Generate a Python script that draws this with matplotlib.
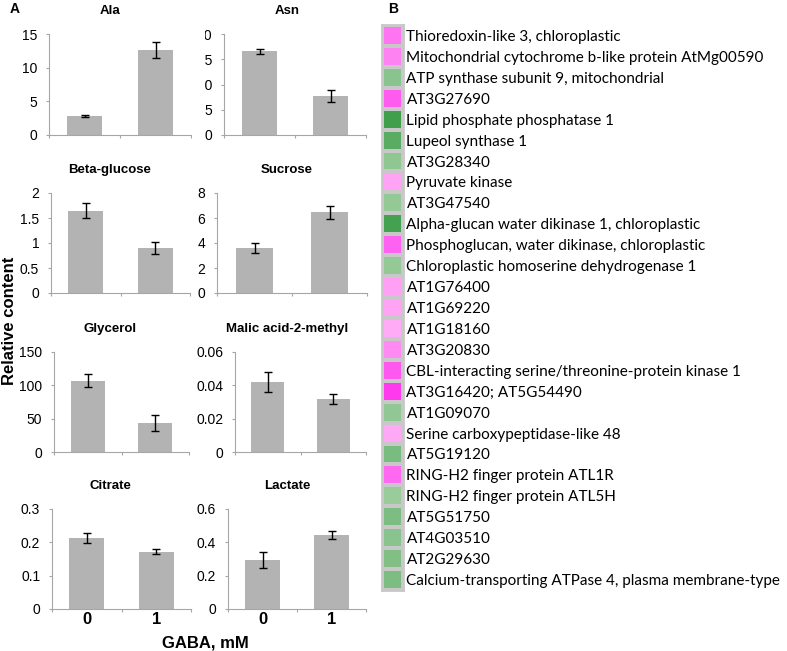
import numpy as np
import matplotlib.pyplot as plt
from matplotlib.colors import LinearSegmentedColormap
from matplotlib.patches import Rectangle

plt.rcParams['font.family'] = ['Liberation Sans', 'DejaVu Sans']

# ---- panel A data ----
metabolites = ['Ala', 'Asn', 'Beta-glucose', 'Sucrose', 'Glycerol',
               'Malic acid-2-methyl', 'Citrate', 'Lactate']
gaba_levels = ['0', '1']
means_0mM = [2.8, 16.6, 1.65, 3.6, 107, 0.042, 0.212, 0.292]
means_1mM = [12.6, 7.7, 0.90, 6.45, 43.5, 0.032, 0.172, 0.444]
err_0mM = [0.2, 0.5, 0.15, 0.4, 9.5, 0.006, 0.015, 0.048]
err_1mM = [1.2, 1.15, 0.12, 0.5, 12.5, 0.003, 0.007, 0.025]
y_max = [15, 20, 2, 8, 150, 0.06, 0.3, 0.6]
y_step = [5, 5, 0.5, 2, 50, 0.02, 0.1, 0.2]

# ---- panel B data: relative change (green = down, pink = up) ----
genes = [
    'Thioredoxin-like 3, chloroplastic',
    'Mitochondrial cytochrome b-like protein AtMg00590',
    'ATP synthase subunit 9, mitochondrial',
    'AT3G27690',
    'Lipid phosphate phosphatase 1',
    'Lupeol synthase 1',
    'AT3G28340',
    'Pyruvate kinase',
    'AT3G47540',
    'Alpha-glucan water dikinase 1, chloroplastic',
    'Phosphoglucan, water dikinase, chloroplastic',
    'Chloroplastic homoserine dehydrogenase 1',
    'AT1G76400',
    'AT1G69220',
    'AT1G18160',
    'AT3G20830',
    'CBL-interacting serine/threonine-protein kinase 1',
    'AT3G16420; AT5G54490',
    'AT1G09070',
    'Serine carboxypeptidase-like 48',
    'AT5G19120',
    'RING-H2 finger protein ATL1R',
    'RING-H2 finger protein ATL5H',
    'AT5G51750',
    'AT4G03510',
    'AT2G29630',
    'Calcium-transporting ATPase 4, plasma membrane-type',
]
change = [0.5, 0.4, -0.3, 0.7, -1.0, -0.75, -0.25, 0.15, -0.2, -0.95,
          0.65, -0.2, 0.18, 0.15, 0.1, 0.35, 0.72, 0.95, -0.22, 0.12,
          -0.45, 0.6, -0.15, -0.42, -0.3, -0.38, -0.42]

W, H = 787, 651
fig = plt.figure(figsize=(W / 100, H / 100), dpi=100)


def px_axes(l, r, t, b):
    return fig.add_axes([l / W, 1 - b / H, (r - l) / W, (b - t) / H])


# axes boxes in pixels: left, right, top, bottom
boxes = [(49, 191, 34, 135), (224, 366, 34, 135),
         (51, 190, 193, 293), (217, 367, 193, 293),
         (54, 189, 352, 452), (235, 366, 352, 452),
         (52, 191, 509, 609), (228, 366, 509, 609)]
title_x = [110, 287]

for i, name in enumerate(metabolites):
    l, r, t, b = boxes[i]
    ax = px_axes(l, r, t, b)
    x = np.arange(len(gaba_levels))
    ax.bar(x, [means_0mM[i], means_1mM[i]], width=0.5, color='#b3b3b3',
           yerr=[err_0mM[i], err_1mM[i]], capsize=3,
           error_kw=dict(elinewidth=1, capthick=1, ecolor='black'))
    ax.set_xlim(-0.5, 1.5)
    ax.set_ylim(0, y_max[i])
    ticks = np.arange(0, y_max[i] + y_step[i] / 2, y_step[i])
    ax.set_yticks(ticks)
    ax.set_yticklabels(['{:g}'.format(round(v, 6)) for v in ticks], fontsize=10)
    for s in ['top', 'right']:
        ax.spines[s].set_visible(False)
    for s in ['left', 'bottom']:
        ax.spines[s].set_color('#a6a6a6')
        ax.spines[s].set_linewidth(0.8)
    ax.tick_params(axis='y', length=2.5, width=0.8, color='#a6a6a6', pad=6)
    ax.set_xticks([-0.5, 0.5, 1.5], minor=True)
    ax.tick_params(axis='x', which='minor', length=2.5, width=0.8,
                   color='#a6a6a6', direction='out')
    ax.set_xticks(x)
    if i >= 6:
        ax.set_xticklabels(gaba_levels, fontsize=12, fontweight='bold')
        ax.tick_params(axis='x', which='major', length=0, pad=2)
    else:
        ax.set_xticklabels([])
        ax.tick_params(axis='x', which='major', length=0)
    col = i % 2
    fig.text(title_x[col] / W, 1 - (t - 23) / H, name, ha='center',
             va='center', fontsize=9.5, fontweight='bold')

# the Asn tick labels are partly hidden behind the Ala panel in the original
fig.add_artist(Rectangle((192 / W, 1 - 145 / H), 12.8 / W, 125 / H,
                         transform=fig.transFigure, facecolor='white',
                         edgecolor='none', zorder=5))

fig.text(10 / W, 1 - 321 / H, 'Relative content', rotation=90, ha='center',
         va='center', fontsize=12, fontweight='bold')
fig.text(205 / W, 1 - 643 / H, 'GABA, mM', ha='center', va='center',
         fontsize=12, fontweight='bold')
fig.text(10 / W, 1 - 9 / H, 'A', ha='left', va='center', fontsize=10,
         fontweight='bold')
fig.text(388 / W, 1 - 9 / H, 'B', ha='left', va='center', fontsize=10,
         fontweight='bold')

# ---- panel B heatmap ----
cmap = LinearSegmentedColormap.from_list('gp', [
    (0.0, '#3f9f4b'), (0.499, '#a9d3a9'), (0.501, '#ffb8f7'), (1.0, '#ff33ec')])
hx = px_axes(382, 403, 25, 590)
vals = np.array(change).reshape(-1, 1)
hx.pcolormesh(vals, cmap=cmap, vmin=-1, vmax=1, edgecolors='#c8c8c8',
              linewidth=1.5)
hx.set_xlim(0, 1)
hx.set_ylim(len(genes), 0)
hx.set_xticks([])
hx.set_yticks(np.arange(len(genes)) + 0.5)
hx.set_yticklabels(genes, fontsize=11, family=['Lato', 'DejaVu Sans'])
hx.yaxis.tick_right()
hx.tick_params(axis='y', length=0, pad=2.5)
for s in hx.spines.values():
    s.set_color('#c8c8c8')
    s.set_linewidth(2)

fig.savefig('out.png', dpi=100)
